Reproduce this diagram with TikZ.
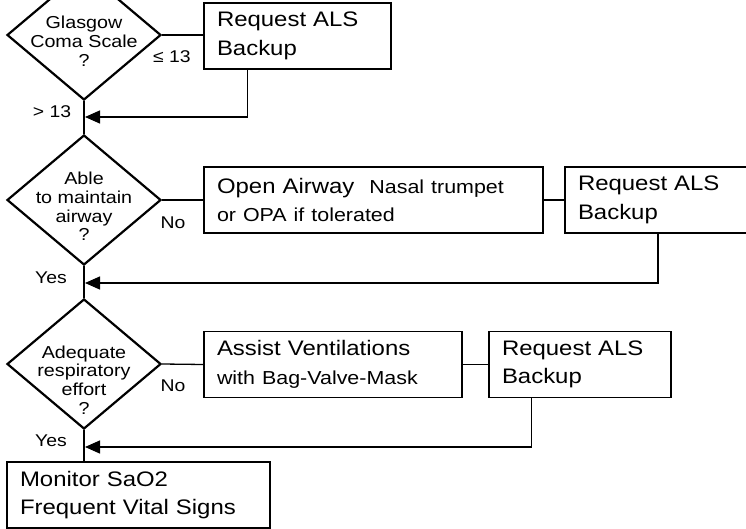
\documentclass[tikz,border=0pt]{standalone}
\usepackage{fontspec}
\setmainfont[FakeStretch=1.14]{Liberation Sans}
\usepackage{tikz}
\usetikzlibrary{shapes.geometric, arrows.meta}

\newcommand{\boxfont}{\fontsize{21}{28.5}\selectfont}
\newcommand{\smallfont}{\fontsize{18.8}{28.5}\selectfont}
\newcommand{\askfont}{\fontsize{17.3}{18.8}\selectfont}
\newcommand{\lblfont}{\fontsize{17}{19}\selectfont}

\tikzset{
  decision/.style={draw, shape=diamond, line width=2.2pt, inner sep=0pt,
    minimum width=154pt, minimum height=130pt},
  asktext/.style={font=\askfont, align=center, inner sep=0pt},
  actbox/.style={draw, line width=1.3pt, font=\boxfont, align=left,
    inner xsep=13pt, inner ysep=0pt, minimum height=66pt},
  lbl/.style={font=\lblfont, inner sep=0pt},
  mainline/.style={line width=2pt},
  link/.style={line width=1.3pt},
}

\begin{document}
\begin{tikzpicture}[x=1pt, y=-1pt, >={Triangle[length=15pt,width=13pt]}]
  \useasboundingbox (0,0) rectangle (746,529);
  % questions
  \node [decision] (q1) at (84,35) {};
  \node [decision] (q2) at (84,200) {};
  \node [decision] (q3) at (84,364) {};
  \node [asktext] (q1t) at ([yshift=-6.5pt]q1.center) {Glasgow\\Coma Scale\\?};
  \node [asktext] (q2t) at ([yshift=-6.5pt]q2.center) {Able\\to maintain\\airway\\?};
  \node [asktext] (q3t) at ([yshift=-16pt]q3.center) {Adequate\\respiratory\\effort\\?};
  % actions
  \node [actbox, text width=161pt] (req1) at (297.5,36) {Request ALS\\Backup};
  \node [actbox, text width=313pt] (air) at (373.5,200)
    {Open Airway\hspace{15pt}{\smallfont Nasal trumpet}\\{\smallfont or OPA if tolerated}};
  \node [actbox, text width=160pt] (req2) at (658,200) {Request ALS\\Backup};
  \node [actbox, text width=232pt] (vent) at (333,364.5)
    {Assist Ventilations\\{\smallfont with Bag-Valve-Mask}};
  \node [actbox, text width=156pt] (req3) at (580,364.5) {Request ALS\\Backup};
  \node [actbox, text width=237pt] (mon) at (138.5,495) {Monitor SaO2\\Frequent Vital Signs};
  \coordinate (j1) at (85,117);
  \coordinate (j2) at (85,283);
  \coordinate (j3) at (85,447);
  % main line
  \draw [mainline] (q1.south) -- (q2.north);
  \draw [mainline] (q2.south) -- (q3.north);
  \draw [mainline] (q3.south) -- (q3.south |- mon.north);
  % side branches
  \draw [link] (q1.east) -- (q1.east -| req1.west);
  \draw [link] (q2.east) -- (air.west);
  \draw [link] (air.east) -- (req2.west);
  \draw [link] (q3.east) -- (vent.west);
  \draw [link] (vent.east) -- (req3.west);
  \draw [link, ->] ([xshift=44pt]req1.south west) |- (j1);
  \draw [link, ->] (req2.south) |- (j2);
  \draw [link, ->] ([xshift=43pt]req3.south west) |- (j3);
  % labels
  \node [lbl] (le) at (172,57) {≤ 13};
  \node [lbl] (gt) at (52,112) {> 13};
  \node [lbl] (no2) at (173,223) {No};
  \node [lbl] (yes2) at (51,278) {Yes};
  \node [lbl] (no3) at (173,386) {No};
  \node [lbl] (yes3) at (51,441) {Yes};
\end{tikzpicture}
\end{document}
